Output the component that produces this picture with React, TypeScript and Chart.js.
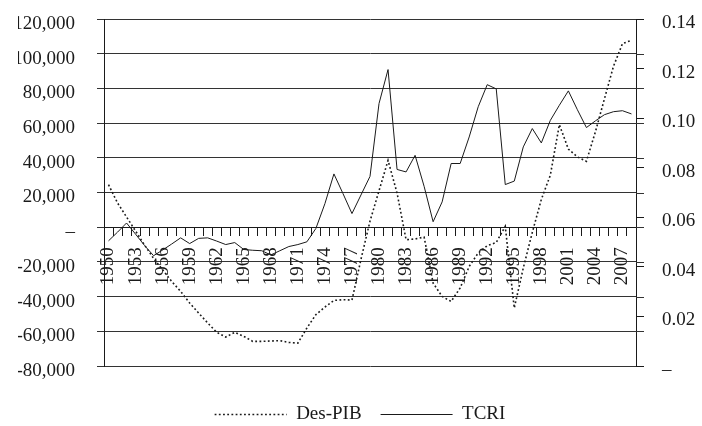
import React, { useEffect, useRef } from 'react';
import { Chart, registerables } from 'chart.js';

Chart.register(...registerables);

const years: string[] = [
  '1950', '1951', '1952', '1953', '1954', '1955', '1956', '1957', '1958', '1959',
  '1960', '1961', '1962', '1963', '1964', '1965', '1966', '1967', '1968', '1969',
  '1970', '1971', '1972', '1973', '1974', '1975', '1976', '1977', '1978', '1979',
  '1980', '1981', '1982', '1983', '1984', '1985', '1986', '1987', '1988', '1989',
  '1990', '1991', '1992', '1993', '1994', '1995', '1996', '1997', '1998', '1999',
  '2000', '2001', '2002', '2003', '2004', '2005', '2006', '2007', '2008',
];

// Des-PIB (left axis)
const desPib: number[] = [
  24500, 14000, 5900, -2200, -10300, -18000, -24500, -31200, -37000, -43700,
  -49500, -55200, -60600, -63300, -60600, -62900, -65800, -65800, -65600, -65400,
  -66400, -66800, -58100, -50400, -46000, -42200, -41800, -42000, -18500, 3500,
  21000, 38500, 19700, -7200, -6800, -5700, -32200, -39900, -42800, -35000,
  -22600, -14900, -10700, -8800, 500, -46600, -23500, -3000, 16000, 30000,
  59100, 45000, 40500, 38000, 55000, 74000, 92700, 105800, 107700,
];

// TCRI (right axis)
const tcri: number[] = [
  0.0505, 0.054, 0.0577, 0.0532, 0.0486, 0.0445, 0.0468, 0.0492, 0.0517, 0.0494,
  0.0515, 0.0517, 0.0504, 0.049, 0.0498, 0.047, 0.0467, 0.0465, 0.0448, 0.0465,
  0.0482, 0.049, 0.0501, 0.0555, 0.0655, 0.0775, 0.0696, 0.0615, 0.069, 0.0765,
  0.1059, 0.1196, 0.0793, 0.0783, 0.085, 0.0725, 0.0582, 0.0662, 0.0817, 0.0817,
  0.0924, 0.1046, 0.1135, 0.1118, 0.0732, 0.0746, 0.0884, 0.0958, 0.09, 0.0991,
  0.1052, 0.111, 0.1034, 0.0962, 0.0989, 0.1014, 0.1026, 0.103, 0.1017,
];

const leftMin = -80000;
const leftMax = 120000;
const leftStep = 20000;
const rightMin = 0;
const rightMax = 0.14;
const rightStep = 0.02;

export default function App() {
  const ref = useRef<HTMLCanvasElement>(null);

  useEffect(() => {
    if (!ref.current) return;
    const FONT = "'Liberation Serif', 'Times New Roman', serif";
    const ink = '#1a1a1a';
    const gridColor = '#333333';

    const gridExt = {
      id: 'gridExt',
      afterDraw(chart: any) {
        const { ctx, chartArea, scales } = chart;
        const ys = scales.y;
        ctx.save();
        ctx.strokeStyle = gridColor;
        ctx.lineWidth = 1;
        ys.ticks.forEach((t: any, i: number) => {
          if (i === 0 || i === ys.ticks.length - 1) return;
          const p = Math.round(ys.getPixelForValue(t.value)) + 0.5;
          ctx.beginPath();
          ctx.moveTo(chartArea.right, p);
          ctx.lineTo(chartArea.right + 8, p);
          ctx.stroke();
        });
        ctx.restore();
      },
    };

    const chart = new Chart(ref.current, {
      type: 'line',
      data: {
        labels: years,
        datasets: [
          {
            label: 'Des-PIB',
            data: desPib,
            yAxisID: 'y',
            borderColor: ink,
            backgroundColor: ink,
            borderWidth: 1.6,
            borderDash: [1.8, 2.4],
            pointRadius: 0,
            fill: false,
            tension: 0,
          },
          {
            label: 'TCRI',
            data: tcri,
            yAxisID: 'y1',
            borderColor: ink,
            backgroundColor: ink,
            borderWidth: 1,
            pointRadius: 0,
            fill: false,
            tension: 0,
          },
        ],
      },
      options: {
        responsive: false,
        animation: false,
        layout: { padding: { top: 19, left: 18, right: 0, bottom: 0 } },
        plugins: {
          legend: {
            position: 'bottom',
            title: { display: true, text: ' ', font: { size: 20, lineHeight: 1 }, padding: 0 },
            labels: {
              usePointStyle: true,
              pointStyle: 'line',
              pointStyleWidth: 72,
              padding: 19,
              font: { family: FONT, size: 19 },
              color: ink,
              generateLabels: (c: any) => {
                const items = (Chart.defaults as any).plugins.legend.labels.generateLabels(c);
                items.forEach((it: any) => {
                  const ds = c.data.datasets[it.datasetIndex];
                  it.lineDash = ds.borderDash || [];
                  it.lineWidth = ds.borderWidth;
                  it.strokeStyle = ds.borderColor;
                });
                return items;
              },
            },
          },
          tooltip: { enabled: false },
        },
        scales: {
          x: {
            type: 'category',
            position: { y: 0 },
            offset: true,
            grid: { offset: true, drawOnChartArea: false, drawTicks: true, tickLength: 8, color: ink },
            border: { display: true, color: ink },
            ticks: {
              autoSkip: false,
              maxRotation: 90,
              minRotation: 90,
              padding: 12,
              font: { family: FONT, size: 19 },
              color: ink,
              callback: (_v: any, i: number) => (i % 3 === 0 ? years[i] : ''),
            },
          },
          y: {
            position: 'left',
            min: leftMin,
            max: leftMax,
            ticks: {
              stepSize: leftStep,
              padding: 22,
              labelOffset: 5,
              font: { family: FONT, size: 19 },
              color: ink,
              callback: (v: any) => (Math.abs(Number(v)) < 1e-9 ? '–' : Number(v).toLocaleString('en-US')),
            },
            grid: { color: gridColor, tickLength: 7 },
            border: { display: true, color: ink },
            afterFit: (s: any) => {
              s.width = 86;
              s.paddingTop = 0;
              s.paddingBottom = 0;
            },
          },
          y1: {
            position: 'right',
            min: rightMin,
            max: rightMax,
            ticks: {
              stepSize: rightStep,
              padding: 18,
              labelOffset: 4,
              font: { family: FONT, size: 19 },
              color: ink,
              callback: (v: any) => (Math.abs(Number(v)) < 1e-9 ? '–' : Number(v).toFixed(2)),
            },
            grid: { drawOnChartArea: false, tickLength: 8, color: ink },
            border: { display: true, color: ink },
            afterFit: (s: any) => {
              s.width = 66;
              s.paddingTop = 0;
              s.paddingBottom = 0;
            },
          },
        },
      } as any,
      plugins: [gridExt],
    });
    return () => chart.destroy();
  }, []);

  return (
    <div
      style={{
        position: 'fixed',
        left: 0,
        top: 0,
        width: 702,
        height: 426,
        overflow: 'hidden',
        background: '#fff',
      }}
    >
      <canvas ref={ref} width={702} height={434} style={{ display: 'block' }} />
    </div>
  );
}
